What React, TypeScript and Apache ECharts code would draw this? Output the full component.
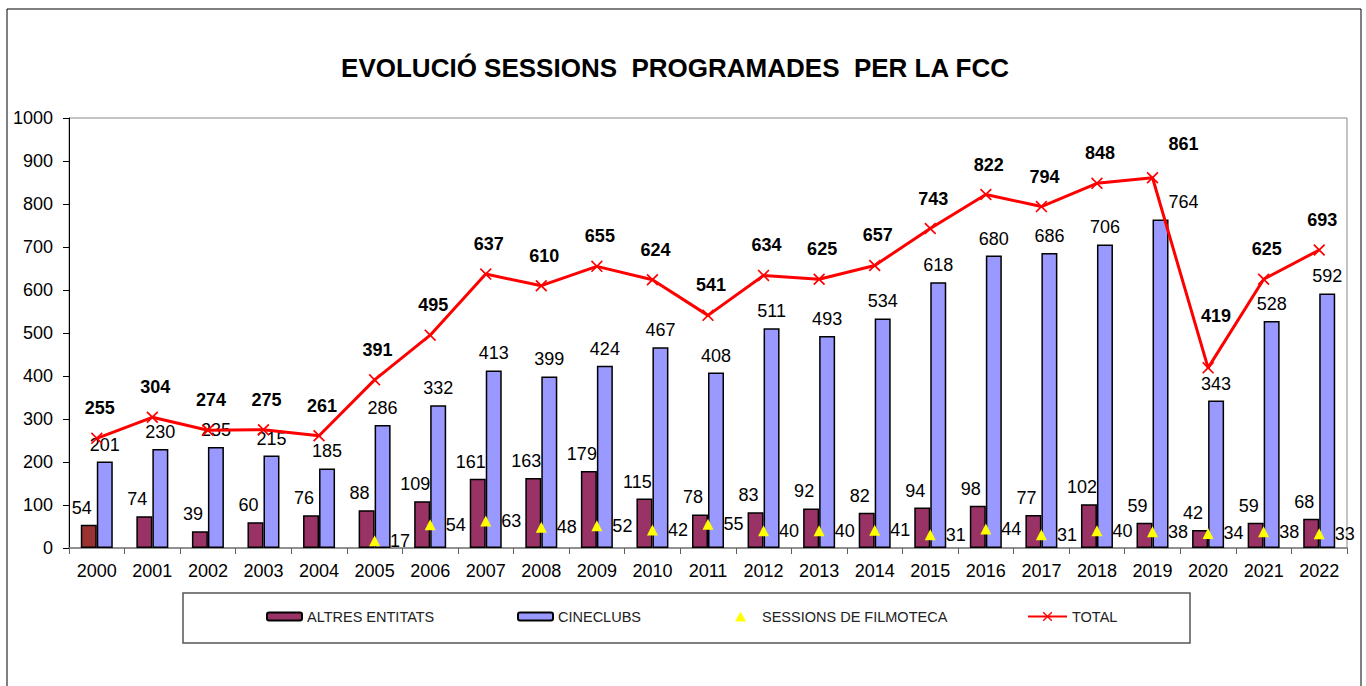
import React, { useEffect, useRef } from "react";
import * as echarts from "echarts";

const years = ["2000","2001","2002","2003","2004","2005","2006","2007","2008","2009","2010","2011","2012","2013","2014","2015","2016","2017","2018","2019","2020","2021","2022"];
const altresEntitats = [54,74,39,60,76,88,109,161,163,179,115,78,83,92,82,94,98,77,102,59,42,59,68];
const cineclubs = [201,230,235,215,185,286,332,413,399,424,467,408,511,493,534,618,680,686,706,764,343,528,592];
const filmoteca = [null,null,null,null,null,17,54,63,48,52,42,55,40,40,41,31,44,31,40,38,34,38,33];
const total = [255,304,274,275,261,391,495,637,610,655,624,541,634,625,657,743,822,794,848,861,419,625,693];
const yTicks = { min: 0, max: 1000, interval: 100 };

const FONT = 'Arial, "Liberation Sans", sans-serif';
const CROSS = "path://M0,1L1,0L5,4L9,0L10,1L6,5L10,9L9,10L5,6L1,10L0,9L4,5Z";

// label nudges mimicking the manually moved labels of the original
const totalLabelNudge: Record<string, number[]> = { "2019": [31, -4], "2020": [8, -22] };
const cineLabelNudge: Record<string, number[]> = { "2019": [23, 0] };

export default function App() {
  const ref = useRef<HTMLDivElement>(null);
  useEffect(() => {
    if (!ref.current) return;
    const chart = echarts.init(ref.current, null, { renderer: "svg" });
    const legendText = { fontFamily: FONT, fontSize: 14.5, color: "#222" };
    chart.setOption({
      animation: false,
      backgroundColor: "#fff",
      textStyle: { fontFamily: FONT },
      grid: {
        left: 69, right: 19, top: 118, bottom: 138,
        show: true, borderColor: "#888", borderWidth: 1, backgroundColor: "transparent",
      },
      legend: [
        { data: ["ALTRES ENTITATS"], left: 266, top: 609, padding: 0, itemWidth: 35, itemHeight: 8, textStyle: legendText },
        { data: ["CINECLUBS"], left: 517, top: 609, padding: 0, itemWidth: 35, itemHeight: 8, textStyle: legendText },
        { data: ["SESSIONS DE FILMOTECA"], left: 735, top: 609, padding: 0, itemWidth: 11, itemHeight: 10, textStyle: { ...legendText, padding: [0, 0, 0, 11] } },
        { data: ["TOTAL"], left: 1027, top: 609, padding: 0, itemWidth: 39, itemHeight: 12, textStyle: legendText },
      ],
      xAxis: {
        type: "category",
        data: years,
        boundaryGap: true,
        axisLine: { lineStyle: { color: "#808080", width: 1.5 } },
        axisTick: { show: true, length: 6, lineStyle: { color: "#606060" } },
        axisLabel: { interval: 0, fontSize: 18, color: "#000", margin: 14, fontFamily: FONT },
        splitLine: { show: false },
      },
      yAxis: {
        type: "value",
        min: yTicks.min, max: yTicks.max, interval: yTicks.interval,
        axisLine: { show: true, lineStyle: { color: "#000", width: 1 } },
        axisTick: { show: true, length: 6, lineStyle: { color: "#000" } },
        axisLabel: { fontSize: 18, color: "#000", margin: 16, fontFamily: FONT, formatter: (v: number) => String(v) },
        splitLine: { show: false },
      },
      graphic: [
        { type: "rect", shape: { x: 7, y: 9, width: 1354, height: 700 }, style: { fill: "none", stroke: "#000", lineWidth: 1 }, silent: true, z: -1 },
        { type: "rect", shape: { x: 183, y: 593, width: 1007, height: 50 }, style: { fill: "none", stroke: "#555", lineWidth: 1.5 }, silent: true },
        { type: "text", x: 675, y: 68, style: { text: "EVOLUCIÓ SESSIONS  PROGRAMADES  PER LA FCC", fontFamily: FONT, fontSize: 26, fontWeight: "bold", fill: "#000", align: "center", verticalAlign: "middle" } },
      ],
      series: [
        {
          name: "ALTRES ENTITATS",
          type: "bar",
          barWidth: 16,
          barGap: "0%",
          data: altresEntitats.map((v, i) => (i === 0 ? { value: v, itemStyle: { color: "#993333" } } : v)),
          itemStyle: { color: "#993366", borderColor: "#000", borderWidth: 1.5 },
          label: { show: true, position: "top", distance: 8, offset: [-7, 0], fontSize: 18, color: "#000", fontFamily: FONT },
          z: 2,
        },
        {
          name: "CINECLUBS",
          type: "bar",
          barWidth: 16,
          barGap: "0%",
          data: cineclubs.map((v, i) => (cineLabelNudge[years[i]] ? { value: v, label: { offset: cineLabelNudge[years[i]] } } : v)),
          itemStyle: { color: "#9999FF", borderColor: "#000", borderWidth: 1.5 },
          label: { show: true, position: "top", distance: 8, fontSize: 18, color: "#000", fontFamily: FONT },
          z: 2,
        },
        {
          name: "SESSIONS DE FILMOTECA",
          type: "scatter",
          symbol: "triangle",
          symbolSize: [11, 11],
          data: filmoteca,
          itemStyle: { color: "#FFFF00", opacity: 1 },
          label: { show: true, position: "right", distance: 10, fontSize: 18, color: "#000", fontFamily: FONT },
          z: 4,
        },
        {
          name: "TOTAL",
          type: "line",
          data: total.map((v, i) => (totalLabelNudge[years[i]] ? { value: v, label: { offset: totalLabelNudge[years[i]] } } : v)),
          symbol: CROSS,
          symbolSize: 12,
          showAllSymbol: true,
          lineStyle: { color: "#FF0000", width: 3 },
          itemStyle: { color: "#FF0000" },
          label: { show: true, position: "top", distance: 15, offset: [3, 0], fontSize: 18, fontWeight: "bold", color: "#000", fontFamily: FONT },
          z: 5,
        },
      ],
    });
    return () => chart.dispose();
  }, []);
  return <div ref={ref} style={{ position: "absolute", left: 0, top: 0, width: 1366, height: 686 }} />;
}
